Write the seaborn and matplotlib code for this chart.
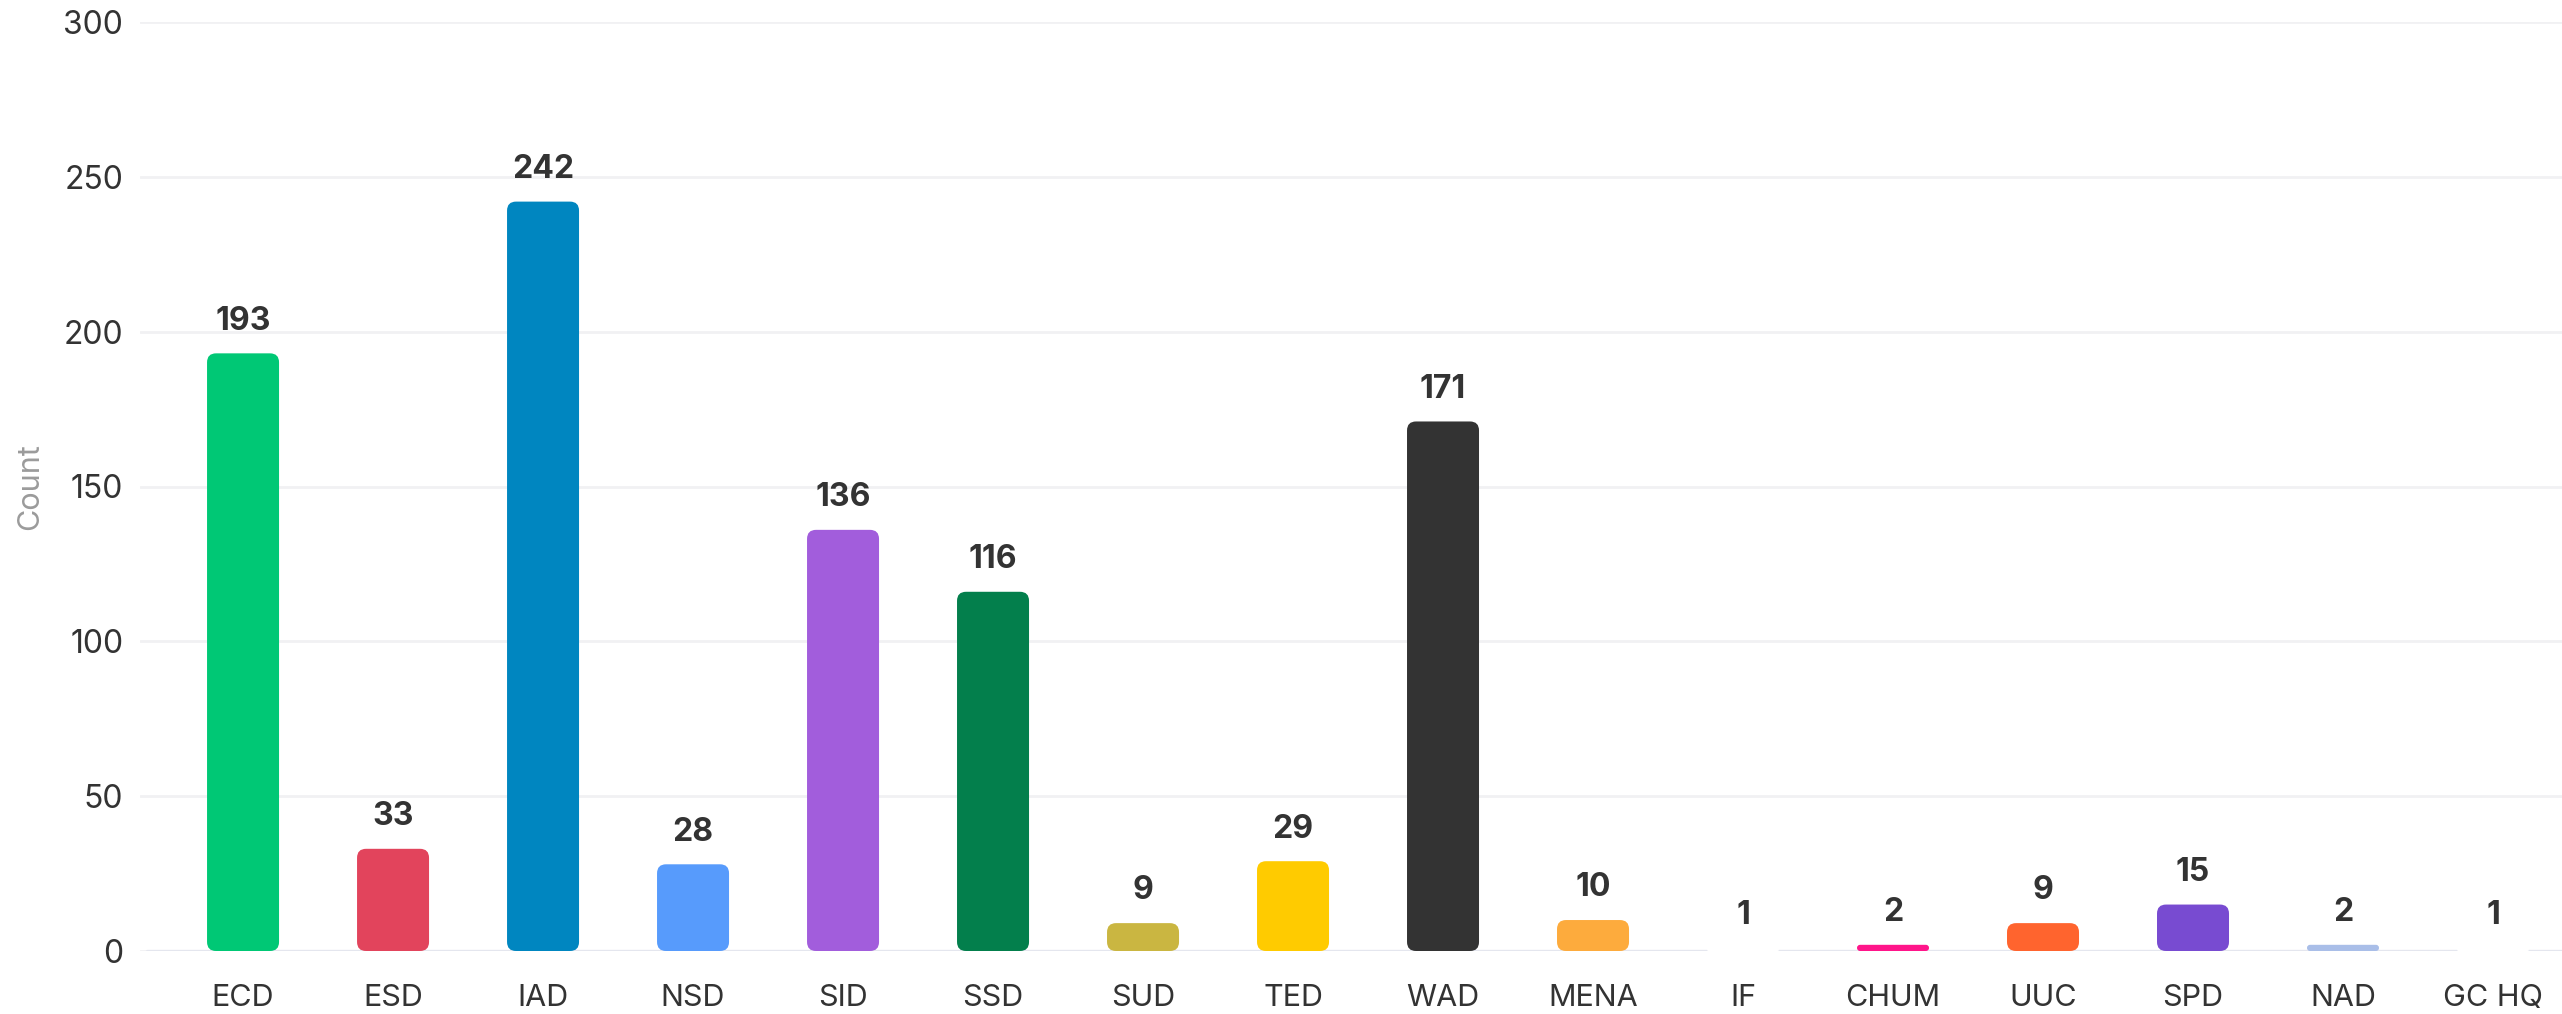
import numpy as np
import pandas as pd
import seaborn as sns
import matplotlib.pyplot as plt
from matplotlib.patches import FancyBboxPatch

# Chart data
categories = ["ECD", "ESD", "IAD", "NSD", "SID", "SSD", "SUD", "TED", "WAD",
              "MENA", "IF", "CHUM", "UUC", "SPD", "NAD", "GC HQ"]
counts = [193, 33, 242, 28, 136, 116, 9, 29, 171, 10, 1, 2, 9, 15, 2, 1]
bar_colors = ["#00C875", "#E2445C", "#0086C0", "#579BFC", "#A25DDC", "#037F4C",
              "#CAB641", "#FFCB00", "#333333", "#FDAB3D", "#FFFFFF", "#FF158A",
              "#FF642E", "#784BD1", "#A9BEE8", "#FFFFFF"]
y_ticks = [0, 50, 100, 150, 200, 250, 300]

df = pd.DataFrame({"team": categories, "count": counts})

sns.set_theme(style="white")
plt.rcParams["font.family"] = ["Inter", "DejaVu Sans"]

W, H, DPI = 2562, 1014, 200
fig = plt.figure(figsize=(W / DPI, H / DPI), dpi=DPI)
ax_left, ax_bottom = 140 / W, (H - 951) / H
ax = fig.add_axes([ax_left, ax_bottom, 1 - ax_left, (951 - 22) / H])

sns.barplot(data=df, x="team", y="count", hue="team", palette=bar_colors,
            saturation=1, legend=False, width=0.48, ax=ax, zorder=3)

ax.set_ylim(0, 300)
ax.set_xlim(-0.687, 15.46)
ax.set_yticks(y_ticks)

# swap the square bars for rounded ones
px_per_x = ax.get_window_extent().width / (ax.get_xlim()[1] - ax.get_xlim()[0])
px_per_y = ax.get_window_extent().height / 300
aspect = px_per_x / px_per_y
radius_px = 9
for patch in list(ax.patches):
    x, y = patch.get_x(), patch.get_y()
    w, h = patch.get_width(), patch.get_height()
    fc = patch.get_facecolor()
    patch.remove()
    r = min(radius_px / px_per_x, w / 2, (h / aspect) / 2)
    rounded = FancyBboxPatch((x, y), w, h,
                             boxstyle=f"round,pad=0,rounding_size={r}",
                             mutation_aspect=aspect, facecolor=fc,
                             edgecolor="none", zorder=3)
    ax.add_patch(rounded)

# value labels
for i, v in enumerate(counts):
    ax.annotate(str(v), (i, v), xytext=(0, 6), textcoords="offset points",
                ha="center", va="bottom", fontsize=11.5, fontweight="bold",
                color="#333333")

ax.grid(axis="y", color="#F1F1F3", linewidth=1.0, zorder=0)
ax.axhline(0, xmin=7 / (W - 140), color="#E4E6EE", linewidth=1.2, zorder=2)
sns.despine(ax=ax, left=True, bottom=True)

ax.tick_params(axis="x", length=0, pad=12, labelsize=11, labelcolor="#333333")
ax.tick_params(axis="y", length=0, pad=6, labelsize=11.5, labelcolor="#333333")
ax.set_xlabel("")
ax.set_ylabel("")
fig.text(30 / W, 1 - 487 / H, "Count", rotation=90, ha="center", va="center",
         fontsize=11, color="#9B9B9B")

fig.savefig("out.png", dpi=DPI)
